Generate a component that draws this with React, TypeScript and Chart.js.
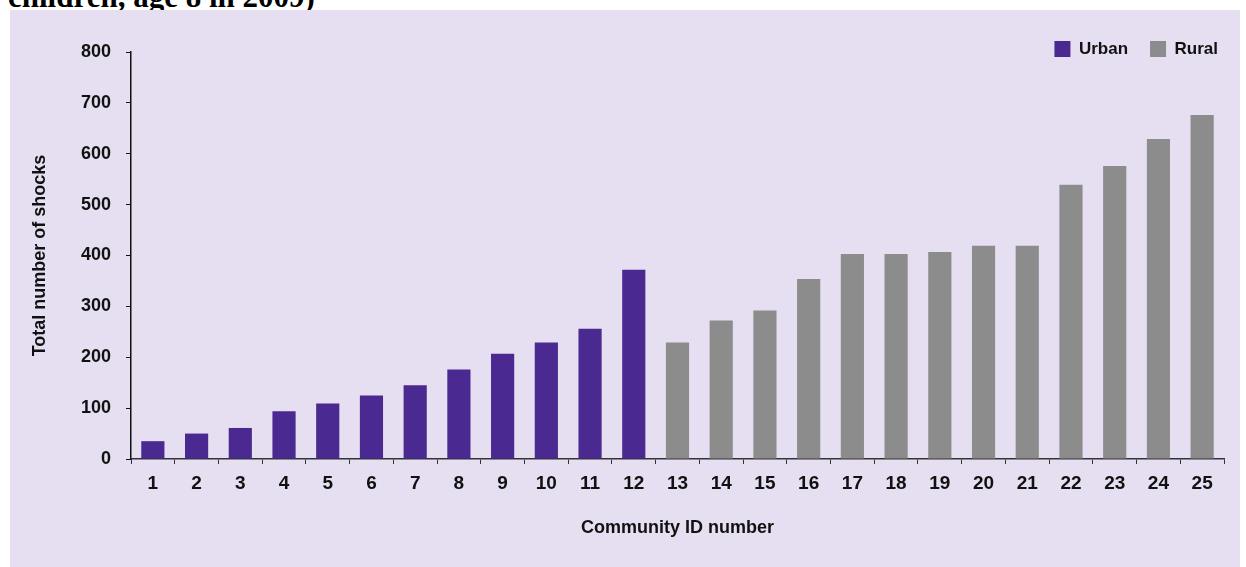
import React, { useEffect, useRef } from "react";
import { Chart, registerables } from "chart.js";

Chart.register(...registerables);

// ---- data ----
const categories = [
  "1", "2", "3", "4", "5", "6", "7", "8", "9", "10", "11", "12", "13",
  "14", "15", "16", "17", "18", "19", "20", "21", "22", "23", "24", "25",
];
const urbanValues = [35, 50, 61, 94, 109, 125, 145, 176, 207, 229, 256, 372];
const ruralValues = [229, 272, 292, 354, 403, 403, 407, 419, 419, 539, 576, 629, 676];
const seriesNames = ["Urban", "Rural"];
const yMin = 0;
const yMax = 800;
const yStep = 100;
const titleText = "children, age 8 in 2009)";
const xTitle = "Community ID number";
const yTitle = "Total number of shocks";

// ---- style ----
const URBAN_COLOR = "#4A2990";
const RURAL_COLOR = "#8C8C8C";
const PANEL_BG = "rgb(230,223,241)";
const FONT = "'Liberation Sans', Arial, sans-serif";

// place the legend box at the top-right corner of the panel
const legendPlace = {
  id: "legendPlace",
  afterLayout(chart: any) {
    const lg = chart.legend;
    if (!lg) return;
    const h = lg.bottom - lg.top;
    const w = lg.right - lg.left;
    lg.top = 18.5;
    lg.bottom = lg.top + h;
    lg.right = 1240;
    lg.left = lg.right - w;
  },
};

export default function App() {
  const ref = useRef<HTMLCanvasElement | null>(null);

  useEffect(() => {
    if (!ref.current) return;
    const nUrban = urbanValues.length;
    const urbanData = categories.map((_, i) => (i < nUrban ? urbanValues[i] : null));
    const ruralData = categories.map((_, i) => (i >= nUrban ? ruralValues[i - nUrban] : null));

    const chart = new Chart(ref.current, {
      type: "bar",
      data: {
        labels: categories,
        datasets: [
          {
            label: seriesNames[0],
            data: urbanData,
            backgroundColor: URBAN_COLOR,
            grouped: false,
            categoryPercentage: 1,
            barPercentage: 0.53,
          } as any,
          {
            label: seriesNames[1],
            data: ruralData,
            backgroundColor: RURAL_COLOR,
            grouped: false,
            categoryPercentage: 1,
            barPercentage: 0.53,
          } as any,
        ],
      },
      options: {
        animation: false,
        responsive: false,
        maintainAspectRatio: false,
        layout: { padding: { left: 8, top: 3, right: 22, bottom: 0 } },
        plugins: {
          legend: {
            position: "top",
            align: "end",
            labels: {
              boxWidth: 16,
              boxHeight: 16,
              padding: 22,
              color: "#111",
              font: { family: FONT, size: 17, weight: "bold" },
            },
          },
          tooltip: { enabled: false },
        },
        scales: {
          x: {
            grid: {
              display: true,
              drawOnChartArea: false,
              drawTicks: true,
              tickLength: 5,
              color: "#333",
              offset: true,
            },
            border: { display: true, color: "#333", width: 1.5 },
            ticks: {
              color: "#111",
              padding: 8,
              maxRotation: 0,
              autoSkip: false,
              font: { family: FONT, size: 19, weight: "bold" },
            },
            title: {
              display: true,
              text: xTitle,
              color: "#111",
              font: { family: FONT, size: 18, weight: "bold" },
              padding: { top: 0, bottom: 28 },
            },
            afterFit: (s: any) => {
              s.height = 567 - 459;
            },
          },
          y: {
            min: yMin,
            max: yMax,
            grid: {
              display: true,
              drawOnChartArea: false,
              drawTicks: true,
              tickLength: 5,
              color: "#111",
            },
            border: { display: true, color: "#111", width: 1.5 },
            ticks: {
              stepSize: yStep,
              color: "#111",
              padding: 15,
              font: { family: FONT, size: 18, weight: "bold" },
            },
            title: {
              display: true,
              text: yTitle,
              color: "#111",
              font: { family: FONT, size: 18, weight: "bold" },
              padding: { top: 21, bottom: 0 },
            },
            afterFit: (s: any) => {
              s.width = 131 - 8;
            },
          },
        },
      },
      plugins: [legendPlace],
    });
    return () => chart.destroy();
  }, []);

  return (
    <div
      style={{
        position: "fixed",
        left: 0,
        top: 0,
        width: 1246,
        height: 567,
        overflow: "hidden",
        background: "#fff",
      }}
    >
      <div
        style={{
          position: "absolute",
          left: 8,
          top: -19,
          fontFamily: "'Liberation Serif', 'Times New Roman', serif",
          fontWeight: "bold",
          fontSize: 31,
          lineHeight: "31px",
          whiteSpace: "nowrap",
          color: "#000",
        }}
      >
        {titleText}
      </div>
      <div
        style={{
          position: "absolute",
          left: 10,
          top: 10,
          width: 1230,
          height: 570,
          background: PANEL_BG,
        }}
      />
      <canvas
        ref={ref}
        width={1246}
        height={567}
        style={{ position: "absolute", left: 0, top: 0, width: 1246, height: 567 }}
      />
    </div>
  );
}
